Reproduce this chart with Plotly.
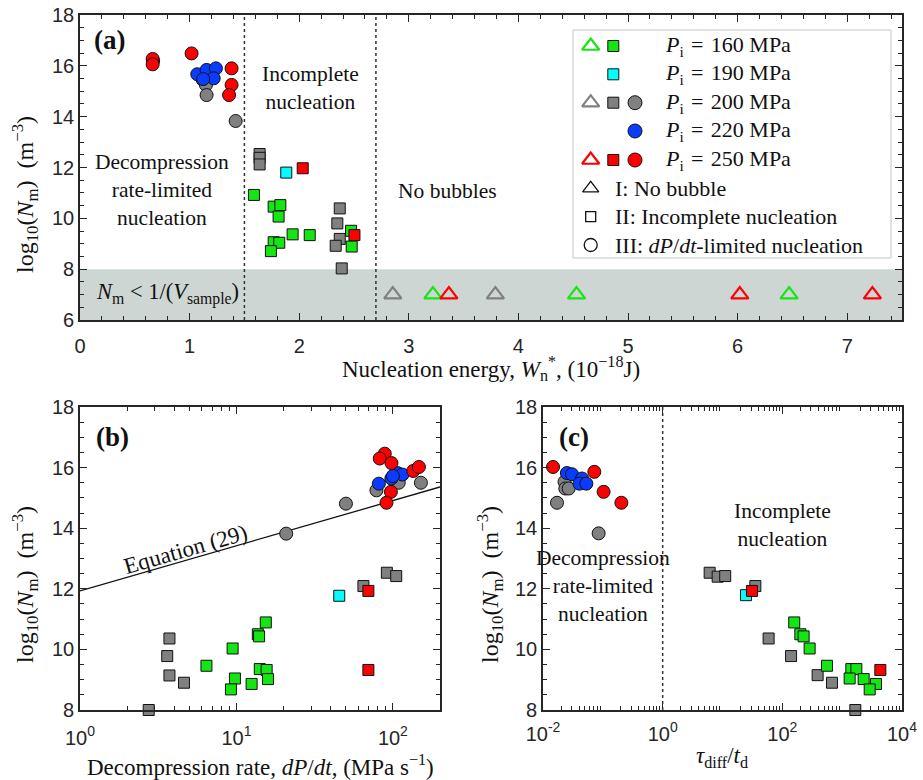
import plotly.graph_objects as go

W, H = 923, 780

# ---------------- Panel (a): nucleation energy ----------------
a_gsq_x = [1.587, 1.767, 1.828, 1.812, 1.940, 2.096, 1.767, 1.818, 1.742, 2.473, 2.479]
a_gsq_y = [10.92, 10.46, 10.52, 10.07, 9.37, 9.34, 9.06, 9.04, 8.71, 9.51, 8.89]
a_ksq_x = [1.639, 1.639, 1.639, 2.370, 2.348, 2.370, 2.333, 2.388]
a_ksq_y = [12.53, 12.38, 12.12, 10.39, 9.80, 9.19, 8.92, 8.03]
a_csq_x = [1.882]
a_csq_y = [11.80]
a_rsq_x = [2.032, 2.504]
a_rsq_y = [11.97, 9.34]
a_kci_x = [1.12, 1.149, 1.155, 1.42]
a_kci_y = [15.45, 15.25, 14.85, 13.83]
a_bci_x = [1.07, 1.155, 1.24, 1.22, 1.124]
a_bci_y = [15.67, 15.84, 15.90, 15.51, 15.48]
a_rci_x = [0.667, 0.663, 0.663, 1.018, 1.383, 1.383, 1.36]
a_rci_y = [16.20, 16.27, 16.06, 16.49, 15.90, 15.25, 14.85]
a_ktri_x = [2.854, 3.79]
a_gtri_x = [3.22, 4.53, 6.47]
a_rtri_x = [3.366, 6.02, 7.23]
tri_level = 7.0
a_div_x = [1.5, 2.7]
band_y = [6, 8]

# ---------------- Panel (b): decompression rate ----------------
b_ksq_x = [2.75, 3.73, 3.61, 3.73, 4.62, 64.8, 91.5, 105]
b_ksq_y = [8.0, 10.36, 9.78, 9.14, 8.90, 12.09, 12.53, 12.42]
b_gsq_x = [15.4, 13.7, 13.95, 9.45, 6.43, 14.1, 15.6, 9.78, 15.9, 12.5, 9.22]
b_gsq_y = [10.89, 10.50, 10.43, 10.03, 9.46, 9.35, 9.32, 9.04, 9.02, 8.86, 8.68]
b_csq_x = [45.4]
b_csq_y = [11.77]
b_rsq_x = [69.7, 69.7]
b_rsq_y = [11.93, 9.32]
b_kci_x = [20.8, 50.1, 78.5, 109, 151]
b_kci_y = [13.82, 14.81, 15.25, 15.50, 15.50]
b_bci_x = [81.3, 97.7, 107, 115, 100]
b_bci_y = [15.47, 15.64, 15.82, 15.77, 15.72]
b_rci_x = [88.7, 82.4, 97.9, 134.9, 146.6, 97.1, 91.0]
b_rci_y = [16.46, 16.30, 16.15, 15.89, 16.02, 15.20, 14.84]
eq_x = [1, 200]
eq_y = [11.93, 15.36]

# ---------------- Panel (c): tau_diff / t_d ----------------
c_ksq_x = [6.1, 8.3, 11.1, 35.4, 59, 140, 389, 676, 1660]
c_ksq_y = [12.53, 12.40, 12.42, 12.09, 10.36, 9.78, 9.15, 8.90, 8.0]
c_gsq_x = [158, 200, 227, 286, 557, 1422, 1726, 1334, 2286, 3675, 2884]
c_gsq_y = [10.89, 10.50, 10.43, 10.03, 9.46, 9.35, 9.35, 9.04, 9.02, 8.86, 8.68]
c_csq_x = [24.7]
c_csq_y = [11.79]
c_rsq_x = [31.1, 4345]
c_rsq_y = [11.93, 9.32]
c_kci_x = [0.0229, 0.0236, 0.0269, 0.01714, 0.0851]
c_kci_y = [15.53, 15.31, 15.31, 14.84, 13.83]
c_bci_x = [0.0251, 0.0305, 0.0449, 0.0407, 0.053]
c_bci_y = [15.82, 15.78, 15.64, 15.47, 15.47]
c_rci_x = [0.0147, 0.0721, 0.103, 0.204]
c_rci_y = [16.02, 15.86, 15.20, 14.84]
c_div_x = 1

# ---------------- Styles ----------------
GREEN = "#14e614"
CYAN = "#00ffff"
GRAY = "#808080"
BLUE = "#0a3cff"
RED = "#ff0000"
AX = "#262626"
BAND = "#ced6d3"
SERIF = "Liberation Serif"
SANS = "Liberation Sans"
SQ = 11
CI = 13

def px(x):
    return x / W

def py(y):
    return 1 - y / H

fig = go.Figure()

def add_markers(x, y, symbol, color, size, xa, ya, open_=False, lw=1):
    if open_:
        marker = dict(symbol=symbol, size=size, color="rgba(0,0,0,0)",
                      line=dict(color=color, width=lw))
    else:
        marker = dict(symbol=symbol, size=size, color=color,
                      line=dict(color="#111111", width=lw))
    fig.add_trace(go.Scatter(x=x, y=y, mode="markers", marker=marker,
                             xaxis=xa, yaxis=ya, cliponaxis=False,
                             showlegend=False, hoverinfo="skip"))

# Panel a
for xs, ys, col in [(a_ksq_x, a_ksq_y, GRAY), (a_gsq_x, a_gsq_y, GREEN),
                    (a_csq_x, a_csq_y, CYAN), (a_rsq_x, a_rsq_y, RED)]:
    add_markers(xs, ys, "square", col, SQ, "x", "y")
for xs, ys, col in [(a_kci_x, a_kci_y, GRAY), (a_bci_x, a_bci_y, BLUE),
                    (a_rci_x, a_rci_y, RED)]:
    add_markers(xs, ys, "circle", col, CI, "x", "y")
for xs, col in [(a_ktri_x, GRAY), (a_gtri_x, GREEN), (a_rtri_x, RED)]:
    add_markers(xs, [tri_level] * len(xs), "triangle-up", col, 15, "x", "y",
                open_=True, lw=2.2)

# Panel b
fig.add_trace(go.Scatter(x=eq_x, y=eq_y, mode="lines",
                         line=dict(color="#111111", width=1.3),
                         xaxis="x2", yaxis="y2", showlegend=False,
                         hoverinfo="skip"))
for xs, ys, col in [(b_ksq_x, b_ksq_y, GRAY), (b_gsq_x, b_gsq_y, GREEN),
                    (b_csq_x, b_csq_y, CYAN), (b_rsq_x, b_rsq_y, RED)]:
    add_markers(xs, ys, "square", col, SQ, "x2", "y2")
for xs, ys, col in [(b_kci_x, b_kci_y, GRAY), (b_bci_x, b_bci_y, BLUE),
                    (b_rci_x, b_rci_y, RED)]:
    add_markers(xs, ys, "circle", col, CI, "x2", "y2")

# Panel c
for xs, ys, col in [(c_ksq_x, c_ksq_y, GRAY), (c_gsq_x, c_gsq_y, GREEN),
                    (c_csq_x, c_csq_y, CYAN), (c_rsq_x, c_rsq_y, RED)]:
    add_markers(xs, ys, "square", col, SQ, "x3", "y3")
for xs, ys, col in [(c_kci_x, c_kci_y, GRAY), (c_bci_x, c_bci_y, BLUE),
                    (c_rci_x, c_rci_y, RED)]:
    add_markers(xs, ys, "circle", col, CI, "x3", "y3")

# ---------------- Legend glyphs (overlay axis in pixel units) ----------------
leg_rows = [46, 74.3, 102.7, 131, 160, 188.3, 216.7, 245]
col_tri, col_sq, col_ci = 590.7, 613.3, 635.0
leg_items = [
    (col_tri, leg_rows[0], "triangle-up", GREEN, 15, True, 2.2),
    (col_sq, leg_rows[0], "square", GREEN, SQ, False, 1),
    (col_sq, leg_rows[1], "square", CYAN, SQ, False, 1),
    (col_tri, leg_rows[2], "triangle-up", GRAY, 15, True, 2.2),
    (col_sq, leg_rows[2], "square", GRAY, SQ, False, 1),
    (col_ci, leg_rows[2], "circle", GRAY, 14, False, 1),
    (col_ci, leg_rows[3], "circle", BLUE, 14, False, 1),
    (col_tri, leg_rows[4], "triangle-up", RED, 15, True, 2.2),
    (col_sq, leg_rows[4], "square", RED, SQ, False, 1),
    (col_ci, leg_rows[4], "circle", RED, 14, False, 1),
    (col_tri, leg_rows[5], "triangle-up", "#111111", 14, True, 1.3),
    (col_tri, leg_rows[6], "square", "#111111", 10, True, 1.3),
    (col_tri, leg_rows[7], "circle", "#111111", 13, True, 1.3),
]
for gx, gy, sym, col, sz, op, lw in leg_items:
    add_markers([gx], [gy], sym, col, sz, "x4", "y4", open_=op, lw=lw)

EQ = "&nbsp;=&nbsp;&#8202;"
leg_texts = [
    "<i>P</i><sub>i</sub>&#8202;" + EQ + "160 MPa",
    "<i>P</i><sub>i</sub>&#8202;" + EQ + "190 MPa",
    "<i>P</i><sub>i</sub>&#8202;" + EQ + "200 MPa",
    "<i>P</i><sub>i</sub>&#8202;" + EQ + "220 MPa",
    "<i>P</i><sub>i</sub>&#8202;" + EQ + "250 MPa",
    "I: No bubble",
    "II: Incomplete nucleation",
    "III: <i>dP</i>/<i>dt</i>-limited nucleation",
]

annotations = []
for i, t in enumerate(leg_texts):
    x0 = 662.7 if i < 5 else 613.3
    annotations.append(dict(text=t, x=px(x0), y=py(leg_rows[i]), xref="paper",
                            yref="paper", xanchor="left", yanchor="middle",
                            showarrow=False,
                            font=dict(family=SERIF, size=22, color="#111111")))

def txt(t, x, y, size=21.5, angle=0, bold=False, anchor="center"):
    if bold:
        t = "<b>" + t + "</b>"
    annotations.append(dict(text=t, x=px(x), y=py(y), xref="paper", yref="paper",
                            xanchor=anchor, yanchor="middle", showarrow=False,
                            textangle=angle,
                            font=dict(family=SERIF, size=size, color="#111111")))

# panel labels
txt("(a)", 109, 40, size=27, bold=True)
txt("(b)", 112, 437, size=27, bold=True)
txt("(c)", 574, 437, size=27, bold=True)

# region texts
txt("Incomplete<br>nucleation", 310, 88)
txt("Decompression<br>rate-limited<br>nucleation", 162, 190)
txt("No bubbles", 447, 191)
txt("<i>N</i><sub>m</sub> &lt; 1/(<i>V</i><sub>sample</sub>)", 167, 293, size=22.5)
txt("Incomplete<br>nucleation", 782, 525)
txt("Decompression<br>rate-limited<br>nucleation", 603, 586)
txt("Equation (29)", 185.7, 549.3, size=23, angle=-16)

# axis titles
ytitle = "log<sub>10</sub>(<i>N</i><sub>m</sub>)&nbsp;&nbsp;(m<sup>−3</sup>)"
txt(ytitle, 25, 195, size=24, angle=-90)
txt(ytitle, 25, 585, size=24, angle=-90)
txt(ytitle, 490, 585, size=24, angle=-90)
txt("Nucleation energy, <i>W</i><sub>n</sub><sup>*</sup>, (10<sup>−18</sup>J)",
    491, 368, size=23)
txt("Decompression rate, <i>dP</i>/<i>dt</i>, (MPa s<sup>−1</sup>)", 260, 765, size=23)
txt("<i>τ</i><sub>diff</sub>/<i>t</i><sub>d</sub>", 722, 757, size=23)

# ---------------- Shapes ----------------
shapes = [
    dict(type="rect", xref="x", yref="y", x0=0, x1=7.5, y0=band_y[0], y1=band_y[1],
         fillcolor=BAND, line=dict(width=0), layer="below"),
    dict(type="rect", xref="paper", yref="paper", x0=px(573), x1=px(891),
         y0=py(258), y1=py(30), fillcolor="white",
         line=dict(color="#c4c4c4", width=1), layer="below"),
]
for xv in a_div_x:
    shapes.append(dict(type="line", xref="x", yref="y", x0=xv, x1=xv, y0=6, y1=18,
                       line=dict(color="#333333", width=1.5, dash="dot")))
shapes.append(dict(type="line", xref="x3", yref="y3", x0=c_div_x, x1=c_div_x,
                   y0=8, y1=18, line=dict(color="#333333", width=1.5, dash="dot")))

# ---------------- Axes ----------------
tickfont = dict(family=SANS, size=20, color=AX)
common = dict(showline=True, linecolor=AX, linewidth=1.6, mirror="allticks",
              ticks="inside", ticklen=7, tickwidth=1.3, tickcolor=AX,
              showgrid=False, zeroline=False, tickfont=tickfont, fixedrange=True,
              automargin=False)

def minor_lin(d):
    return dict(ticks="inside", ticklen=4, tickwidth=1.1, tickcolor=AX, dtick=d,
                showgrid=False)

def log_minor(lo, hi):
    vals = []
    for e in range(lo, hi):
        for k in range(2, 10):
            vals.append(k * 10.0 ** e)
    return dict(ticks="inside", ticklen=4, tickwidth=1.1, tickcolor=AX,
                tickvals=vals, showgrid=False)

layout = dict(
    width=W, height=H, margin=dict(l=0, r=0, t=0, b=0, pad=0, autoexpand=False),
    paper_bgcolor="white", plot_bgcolor="rgba(0,0,0,0)",
    showlegend=False,
    xaxis=dict(domain=[px(80), px(902)], range=[0, 7.5], tick0=0, dtick=1,
               minor=minor_lin(0.2), anchor="y", ticklabelstandoff=7, **common),
    yaxis=dict(domain=[py(320), py(15)], range=[6, 18], tick0=6, dtick=2,
               minor=minor_lin(0.5), anchor="x", **common),
    xaxis2=dict(domain=[px(80), px(440)], type="log", range=[0, 2.30103],
                tickvals=[1, 10, 100],
                ticktext=["10<sup>0</sup>", "10<sup>1</sup>", "10<sup>2</sup>"],
                minor=log_minor(0, 3), anchor="y2", ticklabelstandoff=9, **common),
    yaxis2=dict(domain=[py(710), py(407)], range=[8, 18], tick0=8, dtick=2,
                minor=minor_lin(0.5), anchor="x2", **common),
    xaxis3=dict(domain=[px(543), px(902)], type="log", range=[-2, 4],
                tickvals=[0.01, 1, 100, 10000],
                ticktext=["10<sup>-2</sup>", "10<sup>0</sup>", "10<sup>2</sup>",
                          "10<sup>4</sup>"],
                minor=log_minor(-2, 4), anchor="y3", ticklabelstandoff=5, **common),
    yaxis3=dict(domain=[py(710), py(407)], range=[8, 18], tick0=8, dtick=2,
                minor=minor_lin(0.5), anchor="x3", **common),
    xaxis4=dict(domain=[0, 1], range=[0, W], visible=False, fixedrange=True,
                anchor="y4"),
    yaxis4=dict(domain=[0, 1], range=[H, 0], visible=False, fixedrange=True,
                anchor="x4"),
    annotations=annotations,
    shapes=shapes,
)
fig.update_layout(**layout)
fig.write_html("out.html")
